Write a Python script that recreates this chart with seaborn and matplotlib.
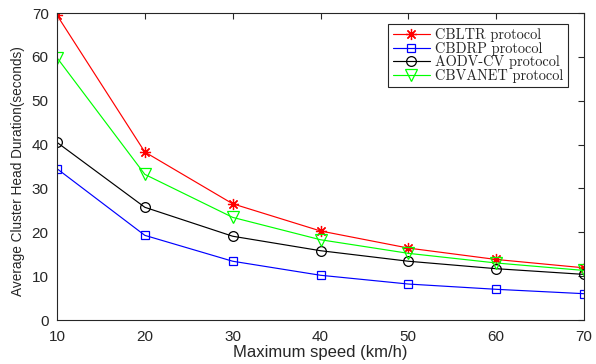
import matplotlib
matplotlib.use("Agg")
import matplotlib.pyplot as plt
import seaborn as sns
import pandas as pd

speeds = [10, 20, 30, 40, 50, 60, 70]
cbltr = [69.5, 38.3, 26.5, 20.3, 16.4, 13.8, 11.9]
cbdrp = [34.5, 19.3, 13.4, 10.2, 8.2, 7.0, 6.0]
aodv_cv = [40.5, 25.7, 19.1, 15.8, 13.4, 11.7, 10.4]
cbvanet = [59.8, 33.2, 23.4, 18.3, 15.2, 13.0, 11.3]
series_names = ["CBLTR protocol", "CBDRP protocol", "AODV-CV protocol", "CBVANET protocol"]
x_ticks = [10, 20, 30, 40, 50, 60, 70]
y_ticks = [0, 10, 20, 30, 40, 50, 60, 70]

rows = []
for name, vals in zip(series_names, [cbltr, cbdrp, aodv_cv, cbvanet]):
    for s, v in zip(speeds, vals):
        rows.append({"speed": s, "value": v, "series": name})
df = pd.DataFrame(rows)

sns.set_style("white")
plt.rcParams["font.family"] = ["Liberation Sans", "DejaVu Sans"]

fig = plt.figure(figsize=(5.96, 3.64), dpi=100)
ax = fig.add_axes([57/596, 1-320/364, (584-57)/596, (320-13)/364])

colors = {"CBLTR protocol": "#ff0000", "CBDRP protocol": "#0000ff",
          "AODV-CV protocol": "#000000", "CBVANET protocol": "#00ff00"}
markers = {"CBLTR protocol": (8, 2, 0), "CBDRP protocol": "s",
           "AODV-CV protocol": "o", "CBVANET protocol": "v"}
msizes = {"CBLTR protocol": 8, "CBDRP protocol": 6,
          "AODV-CV protocol": 7, "CBVANET protocol": 8}

for name in series_names:
    sub = df[df["series"] == name]
    sns.lineplot(data=sub, x="speed", y="value", ax=ax, color=colors[name],
                 marker=markers[name], markersize=msizes[name],
                 markerfacecolor="none", markeredgecolor=colors[name],
                 markeredgewidth=0.9, linewidth=0.85, label=name)

ax.set_xlim(10, 70)
ax.set_ylim(0, 70)
ax.set_xticks(x_ticks)
ax.set_yticks(y_ticks)
ax.tick_params(direction="in", length=4, width=0.8, labelsize=11, colors="#262626",
               top=True, right=True, labelcolor="#262626")
ax.tick_params(axis="x", pad=7)
ax.tick_params(axis="y", pad=6)
for sp in ax.spines.values():
    sp.set_color("#262626")
    sp.set_linewidth(0.8)
    sp.set_visible(True)
ax.set_xlabel("Maximum speed (km/h)", fontsize=12, color="#262626", labelpad=1)
ax.set_ylabel("Average Cluster Head Duration(seconds)", fontsize=9.8, color="#262626", labelpad=5)
ax.yaxis.label.set_y(0.485)

leg = ax.legend(loc="upper right", bbox_to_anchor=(568/596, 1-24/364), bbox_transform=fig.transFigure,
                prop={"family": "cmr10", "size": 10.3},
                frameon=True, fancybox=False, edgecolor="#262626", framealpha=1,
                borderpad=0.3, borderaxespad=0, labelspacing=-0.03, handlelength=2.6, handletextpad=0.4)
leg.get_frame().set_linewidth(0.8)

fig.savefig("out.png", dpi=100)
